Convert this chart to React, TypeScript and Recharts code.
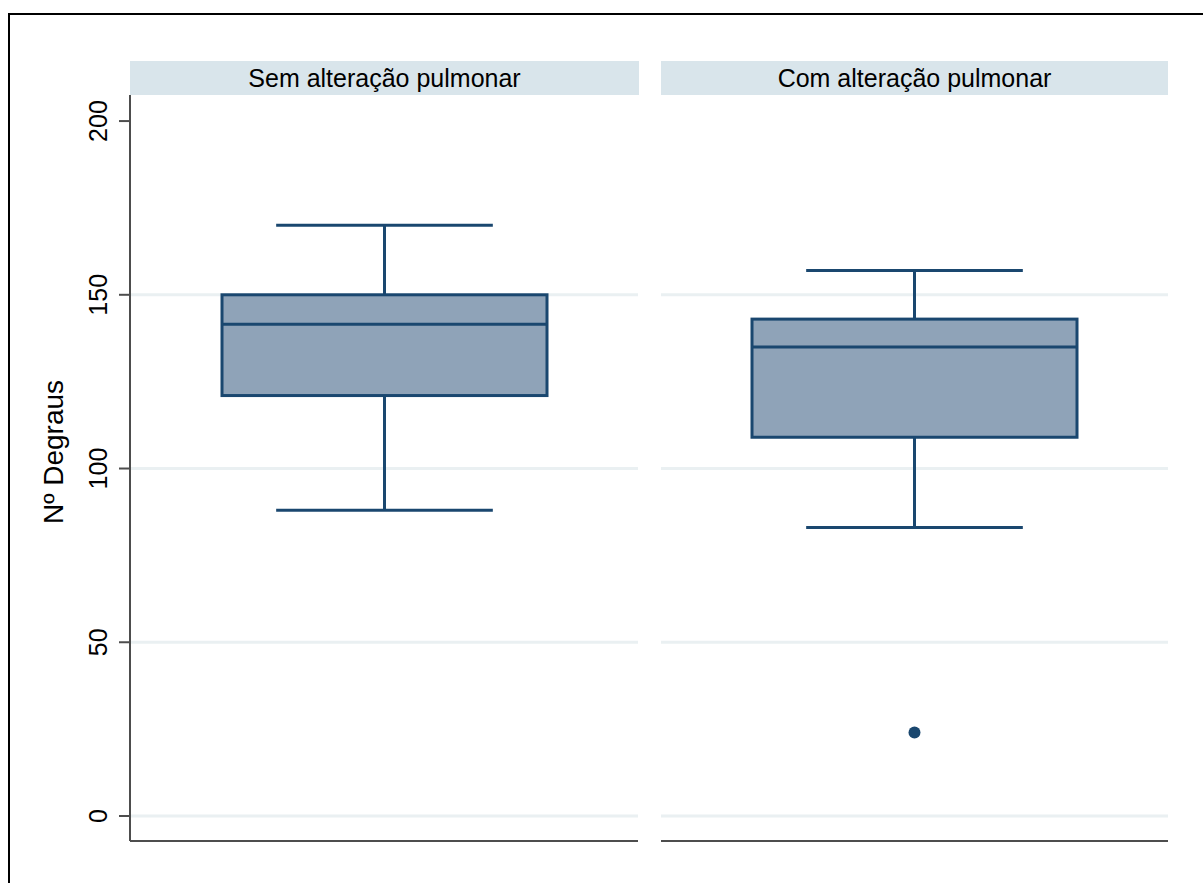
import React from 'react';
import { ComposedChart, Bar, Scatter, XAxis, YAxis, CartesianGrid } from 'recharts';

const groups = ['Sem alteração pulmonar', 'Com alteração pulmonar'];
const whiskerLow = [88, 83];
const q1 = [121, 109];
const median = [141.5, 135];
const q3 = [150, 143];
const whiskerHigh = [170, 157];
const outliers = [[], [24]];
const yTicks = [0, 50, 100, 150, 200];
const gridValues = [0, 50, 100, 150];
const yDomain = [-7.2, 207.5];

const FONT = '"Liberation Sans", Arial, sans-serif';
const NAVY = '#1a476f';
const BOX_FILL = '#8fa3b8';
const AXIS = '#4d4d4d';
const GRID = '#eaf0f2';
const HEADER = '#d9e5eb';

const BoxShape = (props: any) => {
    const { x, y, width, height, payload } = props;
    const { low, q1, med, q3, high } = payload;
    const k = height / (high - low);
    const py = (v: number) => y + (high - v) * k;
    const cx = x + width / 2;
    const cap = width / 3;
    const st = { stroke: NAVY, strokeWidth: 3 };
    return (
        <g>
            <line x1={cx} x2={cx} y1={py(high)} y2={py(q3)} {...st} />
            <line x1={cx} x2={cx} y1={py(q1)} y2={py(low)} {...st} />
            <line x1={cx - cap} x2={cx + cap} y1={py(high)} y2={py(high)} {...st} />
            <line x1={cx - cap} x2={cx + cap} y1={py(low)} y2={py(low)} {...st} />
            <rect x={x} y={py(q3)} width={width} height={py(q1) - py(q3)} fill={BOX_FILL} {...st} />
            <line x1={x} x2={x + width} y1={py(med)} y2={py(med)} {...st} />
        </g>
    );
};

const YTick = (props: any) => {
    const { y, payload } = props;
    return (
        <text x={107} y={y} transform={`rotate(-90 107 ${y})`} textAnchor="middle"
              fontSize={25} fontFamily={FONT} fill="#000">
            {payload.value}
        </text>
    );
};

function rowFor(i: number) {
    const row: any = {
        name: groups[i],
        low: whiskerLow[i],
        q1: q1[i],
        med: median[i],
        q3: q3[i],
        high: whiskerHigh[i],
    };
    if (outliers[i].length) row.outlier = outliers[i][0];
    return row;
}

// grid rows at the chosen values, using the axis scale when available
const gridRows = (p: any) => {
    const s = p && p.yAxis ? p.yAxis.scale : null;
    return gridValues.map(v => {
        if (typeof s === 'function') return s(v);
        if (s && typeof s.map === 'function') return s.map(v);
        const top = p.offset.top;
        const h = p.offset.height;
        return top + h * (yDomain[1] - v) / (yDomain[1] - yDomain[0]);
    });
};

const Panel = ({ index, left, width, showAxis }: { index: number, left: number, width: number, showAxis: boolean }) => {
    const data = [rowFor(index)];
    return (
        <div style={{ position: 'absolute', left, top: 95 }}>
            <ComposedChart width={width} height={776} data={data}
                           margin={{ top: 0, right: 0, bottom: 0, left: showAxis ? 30 : 0 }}>
                <CartesianGrid vertical={false} stroke={GRID} strokeWidth={3}
                               horizontalCoordinatesGenerator={gridRows} />
                <XAxis dataKey="name" tick={false} tickLine={false} height={30}
                       axisLine={{ stroke: AXIS, strokeWidth: 2 }} />
                {showAxis ? (
                    <YAxis type="number" domain={yDomain} ticks={yTicks} allowDataOverflow
                           width={100} tickSize={11} tick={<YTick />}
                           tickLine={{ stroke: AXIS, strokeWidth: 2 }}
                           axisLine={{ stroke: AXIS, strokeWidth: 2 }}
                           label={{
                               content: () => (
                                   <text x={63} y={357} transform="rotate(-90 63 357)" textAnchor="middle"
                                         fontSize={28} fontFamily={FONT} fill="#000">Nº Degraus</text>
                               )
                           }} />
                ) : (
                    <YAxis type="number" domain={yDomain} allowDataOverflow hide />
                )}
                <Bar dataKey={(d: any) => [d.low, d.high]} barSize={325} shape={<BoxShape />}
                     isAnimationActive={false} />
                {outliers[index].length > 0 && (
                    <Scatter dataKey="outlier" fill={NAVY} isAnimationActive={false}
                             shape={(p: any) => <circle cx={p.cx} cy={p.cy} r={6} fill={NAVY} />} />
                )}
            </ComposedChart>
        </div>
    );
};

const Header = ({ left, width, text }: { left: number, width: number, text: string }) => (
    <div style={{
        position: 'absolute', left, top: 61, width, height: 34, background: HEADER,
        fontFamily: FONT, fontSize: 25, lineHeight: '34px', textAlign: 'center', color: '#000'
    }}>
        {text}
    </div>
);

export default function App() {
    return (
        <div style={{ position: 'absolute', left: 0, top: 0, width: 1203, height: 883, overflow: 'hidden', background: '#fff' }}>
            <div style={{ position: 'absolute', left: 8, top: 13, width: 1220, height: 900, border: '2px solid #000' }} />
            <Header left={130} width={509} text={groups[0]} />
            <Header left={661} width={507} text={groups[1]} />
            <Panel index={0} left={0} width={638} showAxis={true} />
            <Panel index={1} left={661} width={507} showAxis={false} />
        </div>
    );
}
